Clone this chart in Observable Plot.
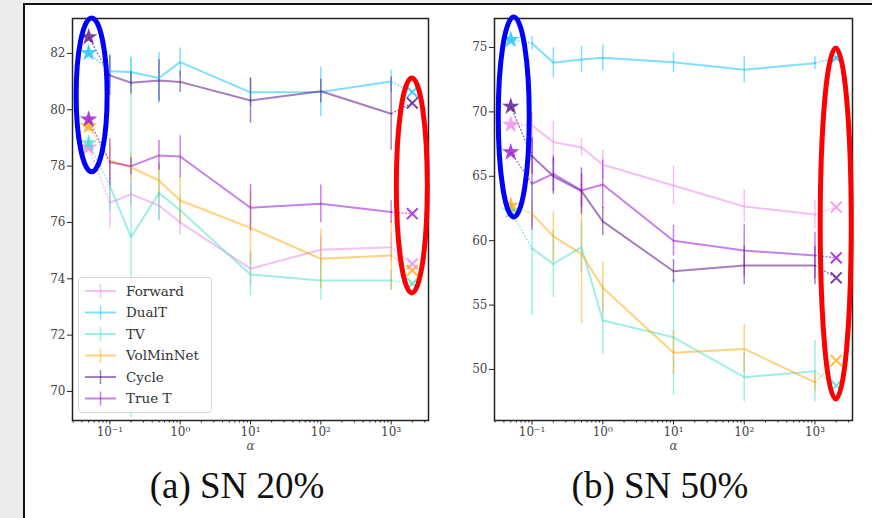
<!DOCTYPE html>
<html><head><meta charset="utf-8">
<script src="https://cdn.jsdelivr.net/npm/d3@7"></script>
<script src="https://cdn.jsdelivr.net/npm/@observablehq/plot@0.6"></script>
<style>
body{margin:0;width:872px;height:518px;overflow:hidden;background:#fff;position:relative}
#bgl{position:absolute;left:0;top:0;width:23px;height:518px;background:#ececec}
#bgt{position:absolute;left:0;top:0;width:872px;height:3px;background:#f2f2f2}
#box{position:absolute;left:23px;top:3px;width:860px;height:530px;border-left:2px solid #111;border-top:2px solid #111;box-sizing:border-box}
.panel{position:absolute;top:0}
.cap{position:absolute;font-family:"Liberation Serif";font-size:37px;color:#111;white-space:nowrap;transform:translateX(-50%);line-height:1}
#legend{position:absolute;left:78px;top:277px;width:134px;height:136px;border:1px solid #d8d8d8;border-radius:4px;background:rgba(255,255,255,0.85);box-sizing:border-box}
</style></head>
<body>
<div id="bgt"></div><div id="bgl"></div><div id="box"></div>
<div id="pa" class="panel" style="left:0"></div>
<div id="pb" class="panel" style="left:430px"></div>
<div id="legend"></div>
<div class="cap" id="capa" style="left:237px;top:467px"></div>
<div class="cap" id="capb" style="left:660px;top:467px"></div>
<script>
// ---------- data ----------
const methods = ["Forward", "DualT", "TV", "VolMinNet", "Cycle", "True T"];
const colors = ["#ee82ee", "#00bfff", "#40e0d0", "#ffa500", "#4b0082", "#9400d3"];
const alphas = [0.1, 0.2, 0.5, 1, 10, 100, 1000];
const startAlpha = 0.05;
const endAlpha = 2000;
const xTicks = [0.1, 1, 10, 100, 1000];
const xTickLabels = ["10⁻¹", "10⁰", "10¹", "10²", "10³"];
const captions = ["(a) SN 20%", "(b) SN 50%"];

// SN 20%
const sn20_forward = [76.7, 77.0, 76.6, 76.0, 74.36, 75.03, 75.12];
const sn20_forward_err = [0.9, 0.4, 0.5, 0.45, 0.6, 0.5, 0.5];
const sn20_dualt = [81.37, 81.34, 81.13, 81.69, 80.62, 80.63, 81.0];
const sn20_dualt_err = [0.6, 0.5, 0.9, 0.5, 0.5, 0.88, 0.4];
const sn20_tv = [77.3, 75.48, 77.05, 76.43, 74.15, 73.94, 73.94];
const sn20_tv_err = [0.9, 6.4, 1.0, 0.5, 0.75, 0.7, 0.35];
const sn20_volmin = [78.2, 77.96, 77.49, 76.78, 75.81, 74.71, 74.83];
const sn20_volmin_err = [0.6, 0.5, 0.6, 0.83, 1.3, 1.06, 1.24];
const sn20_cycle = [81.22, 80.96, 81.04, 80.99, 80.33, 80.66, 79.86];
const sn20_cycle_err = [0.7, 0.4, 0.74, 0.38, 0.8, 0.42, 1.3];
const sn20_truet = [78.14, 78.0, 78.38, 78.34, 76.52, 76.66, 76.37];
const sn20_truet_err = [0.83, 0.3, 0.53, 0.74, 0.83, 0.67, 0.4];
const sn20_start = [78.67, 82.02, 78.82, 79.42, 82.58, 79.66];
const sn20_end = [74.53, 80.63, 73.83, 74.3, 80.24, 76.31];
const sn20_yTicks = [70, 72, 74, 76, 78, 80, 82];
const sn20_yDomain = [68.97, 83.24];
// highlight ellipses (data units)
const sn20_ellipses = [
  {x: 0.056, top: 83.24, bottom: 77.78, color: "#0000ff"},
  {x: 2000, top: 81.11, bottom: 73.48, color: "#ff0000"}
];

// SN 50%
const sn50_forward = [68.95, 67.65, 67.26, 65.9, 64.29, 62.66, 62.03];
const sn50_forward_err = [1.0, 1.6, 0.7, 1.15, 1.5, 1.3, 1.1];
const sn50_dualt = [75.33, 73.81, 74.07, 74.2, 73.86, 73.27, 73.78];
const sn50_dualt_err = [0.5, 1.16, 1.0, 1.0, 0.78, 1.0, 0.5];
const sn50_tv = [59.4, 58.2, 59.5, 53.8, 52.5, 49.4, 49.87];
const sn50_tv_err = [5.2, 2.6, 2.0, 2.6, 4.5, 1.9, 2.4];
const sn50_volmin = [62.1, 60.33, 58.98, 56.34, 51.3, 51.6, 49.0];
const sn50_volmin_err = [1.0, 1.9, 5.4, 2.0, 1.7, 1.9, 0.7];
const sn50_cycle = [66.55, 65.0, 63.85, 61.5, 57.63, 58.07, 58.07];
const sn50_cycle_err = [1.4, 1.4, 1.8, 1.1, 0.9, 1.5, 1.5];
const sn50_truet = [64.42, 65.19, 63.9, 64.36, 60.0, 59.24, 58.85];
const sn50_truet_err = [3.6, 1.4, 1.3, 1.9, 1.2, 2.0, 1.8];
const sn50_start = [69.02, 75.6, 62.3, 62.73, 70.42, 66.87];
const sn50_end = [62.6, 74.2, 48.76, 50.7, 57.12, 58.67];
const sn50_yTicks = [50, 55, 60, 65, 70, 75];
const sn50_yDomain = [46.04, 77.25];
const sn50_ellipses = [
  {x: 0.056, top: 77.33, bottom: 61.8, color: "#0000ff"},
  {x: 2000, top: 74.92, bottom: 47.67, color: "#ff0000"}
];

const xDomain = [Math.pow(10, -1.531), Math.pow(10, 3.531)];

function ellipseMark(specs) {
  return (index, scales) => {
    const g = d3.create("svg:g");
    for (const s of specs) {
      const cx = scales.x(s.x), y1 = scales.y(s.top), y2 = scales.y(s.bottom);
      g.append("ellipse").attr("cx", cx).attr("cy", (y1 + y2) / 2)
        .attr("rx", 15.5).attr("ry", (y2 - y1) / 2)
        .attr("fill", "none").attr("stroke", s.color).attr("stroke-width", 5);
    }
    return g.node();
  };
}

function panel(series, errs, starts, ends, yTicks, yDomain, ellipses, w, ml, mr) {
  const rows = [];
  methods.forEach((m, i) => alphas.forEach((a, j) =>
    rows.push({method: m, alpha: a, y: series[i][j], e: errs[i][j]})));
  const ends2 = methods.map((m, i) => ({
    method: m, s: starts[i], f: series[i][0], l: series[i][series[i].length - 1], t: ends[i]}));
  const minor = d3.scaleLog().domain(xDomain).ticks().filter(v => !xTicks.includes(v));
  return Plot.plot({
    width: w, height: 460, marginLeft: ml, marginRight: mr, marginTop: 18, marginBottom: 40,
    x: {type: "log", domain: xDomain},
    y: {domain: yDomain},
    color: {domain: methods, range: colors},
    style: {fontFamily: "DejaVu Serif", fontSize: "12px", color: "#444", background: "transparent", overflow: "visible"},
    marks: [
      Plot.axisX({ticks: minor, tickSize: 2.5, tickFormat: () => "", label: null, stroke: "#222"}),
      Plot.axisX({ticks: xTicks, tickSize: 4.5, tickPadding: 2, tickFormat: d => xTickLabels[xTicks.indexOf(d)], label: null, stroke: "#222"}),
      Plot.axisY({ticks: yTicks, tickSize: 5, tickPadding: 2, label: null, stroke: "#222"}),
      Plot.text(["α"], {frameAnchor: "bottom", dy: 29, fontStyle: "italic", fontSize: 12, fill: "#555"}),
      Plot.ruleX(rows, {x: "alpha", y1: d => d.y - d.e, y2: d => d.y + d.e, stroke: "method", strokeOpacity: 0.5, strokeWidth: 1.5}),
      Plot.line(rows, {x: "alpha", y: "y", z: "method", stroke: "method", strokeOpacity: 0.5, strokeWidth: 2}),
      Plot.link(ends2, {x1: startAlpha, y1: "s", x2: alphas[0], y2: "f", stroke: "method", strokeOpacity: 0.6, strokeWidth: 1.3, strokeDasharray: "2,1.5"}),
      Plot.link(ends2, {x1: alphas[alphas.length - 1], y1: "l", x2: endAlpha, y2: "t", stroke: "method", strokeOpacity: 0.6, strokeWidth: 1.3, strokeDasharray: "2,1.5"}),
      Plot.dot(ends2, {x: startAlpha, y: "s", symbol: "star", fill: "method", fillOpacity: 0.75, r: 5.5}),
      Plot.dot(ends2, {x: endAlpha, y: "t", symbol: "times", stroke: "method", strokeOpacity: 0.75, strokeWidth: 2, r: 5}),
      Plot.frame({stroke: "#222", strokeWidth: 1.5}),
      ellipseMark(ellipses)
    ]
  });
}

document.getElementById("pa").append(panel(
  [sn20_forward, sn20_dualt, sn20_tv, sn20_volmin, sn20_cycle, sn20_truet],
  [sn20_forward_err, sn20_dualt_err, sn20_tv_err, sn20_volmin_err, sn20_cycle_err, sn20_truet_err],
  sn20_start, sn20_end, sn20_yTicks, sn20_yDomain, sn20_ellipses, 440, 72, 12));
document.getElementById("pb").append(panel(
  [sn50_forward, sn50_dualt, sn50_tv, sn50_volmin, sn50_cycle, sn50_truet],
  [sn50_forward_err, sn50_dualt_err, sn50_tv_err, sn50_volmin_err, sn50_cycle_err, sn50_truet_err],
  sn50_start, sn50_end, sn50_yTicks, sn50_yDomain, sn50_ellipses, 442, 64, 20));

document.getElementById("capa").textContent = captions[0];
document.getElementById("capb").textContent = captions[1];

// legend
const lg = d3.select("#legend").append("svg").attr("width", 132).attr("height", 134);
methods.forEach((m, i) => {
  const y = 13 + 21.5 * i;
  const g = lg.append("g").attr("transform", `translate(0,${y})`);
  g.append("line").attr("x1", 6).attr("x2", 37).attr("y1", 0).attr("y2", 0)
    .attr("stroke", colors[i]).attr("stroke-opacity", 0.5).attr("stroke-width", 2);
  g.append("line").attr("x1", 21.5).attr("x2", 21.5).attr("y1", -7).attr("y2", 7)
    .attr("stroke", colors[i]).attr("stroke-opacity", 0.5).attr("stroke-width", 1.5);
  g.append("text").attr("x", 47).attr("y", 0).attr("dy", "0.35em")
    .attr("font-family", "DejaVu Serif").attr("font-size", 13.5).attr("fill", "#333").text(m);
});
</script>
</body></html>
